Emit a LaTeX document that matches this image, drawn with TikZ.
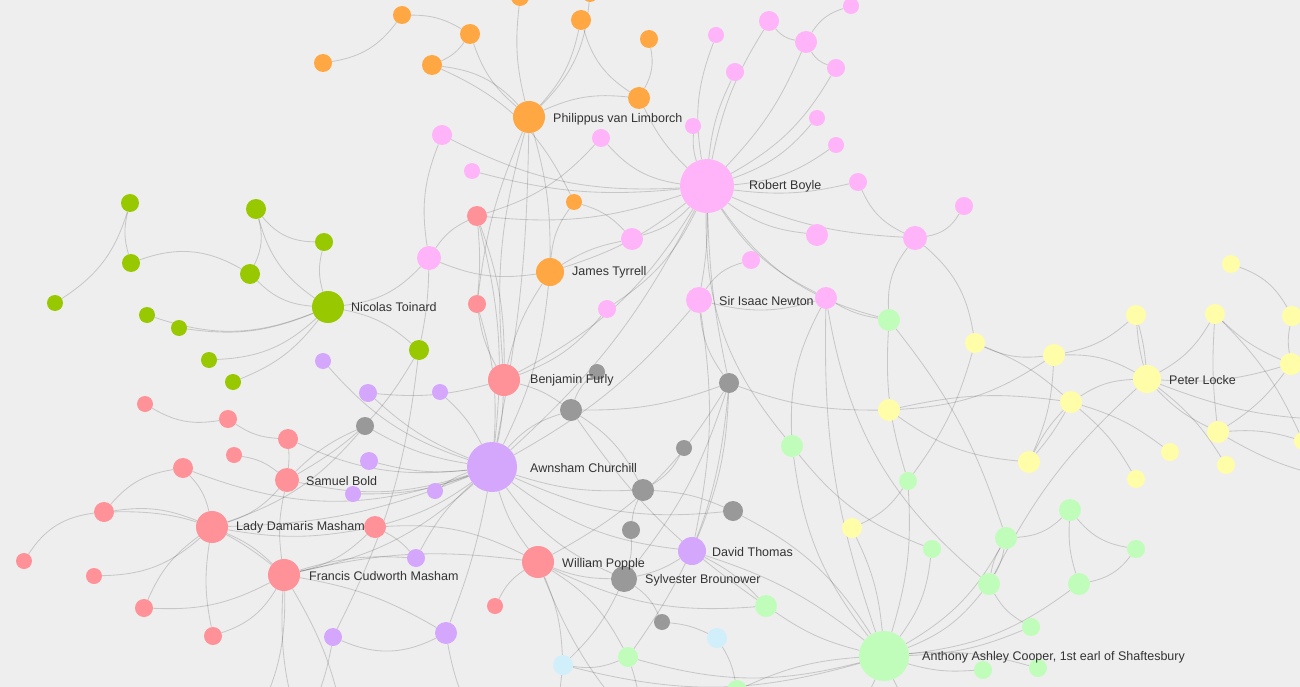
\documentclass[tikz,border=0pt]{standalone}
\usepackage{fontspec}
\setmainfont{Liberation Sans}
\usetikzlibrary{backgrounds}
\definecolor{bgc}{HTML}{EEEEEE}
\definecolor{cor}{HTML}{FFA843}
\definecolor{cpk}{HTML}{FFB3F8}
\definecolor{cdg}{HTML}{97C800}
\definecolor{csa}{HTML}{FF9198}
\definecolor{cpu}{HTML}{D4A7FC}
\definecolor{cgy}{HTML}{999999}
\definecolor{clg}{HTML}{C0FDBA}
\definecolor{cye}{HTML}{FFFDA8}
\definecolor{clb}{HTML}{D0EFFA}
\definecolor{ctx}{HTML}{333333}
\newcommand{\nd}[5]{\node[dot, minimum size=#4*2pt, fill=#5] (#1) at (#2,-#3) {};}
\newcommand{\ed}[3][15]{\draw[edge] (#2) to[bend left=#1] (#3);}
\tikzset{
  dot/.style={circle, draw=none, inner sep=0pt},
  edge/.style={draw=black, draw opacity=0.16, line width=0.85pt},
  lab/.style={anchor=west, inner sep=0pt, text=ctx, font=\fontsize{12.5}{14}\selectfont}
}
\begin{document}
\begin{tikzpicture}[x=1pt,y=1pt]
\useasboundingbox (0,0) rectangle (1300,-687);
\clip (0,0) rectangle (1300,-687);
% ---------- off-canvas ends
\coordinate (xb1) at (300,-730);
\coordinate (xb2) at (345,-730);
\coordinate (xb3) at (480,-730);
\coordinate (xb4) at (560,-730);
\coordinate (xb5) at (640,-730);
\coordinate (xb6) at (700,-730);
\coordinate (xb7) at (840,-730);
\coordinate (xb8) at (930,-730);
\coordinate (xb9) at (250,-730);
\coordinate (xr1) at (1345,-420);
\coordinate (xr2) at (1345,-480);
\coordinate (xr3) at (1345,-340);
% ---------- orange
\nd{oA}{402}{15}{9}{cor}
\nd{oB}{520}{-3}{9}{cor}
\nd{oC}{590}{-6}{8}{cor}
\nd{oD}{581}{20}{10}{cor}
\nd{oE}{470}{34}{10}{cor}
\nd{oF}{323}{63}{9}{cor}
\nd{oG}{432}{65}{10}{cor}
\nd{oH}{649}{39}{9}{cor}
\nd{oI}{639}{98}{11}{cor}
\nd{PL}{529}{117}{16}{cor}
\nd{oJ}{574}{202}{8}{cor}
\nd{JT}{550}{272}{14}{cor}
% ---------- pink
\nd{pA}{851}{6}{8}{cpk}
\nd{pB}{769}{21}{10}{cpk}
\nd{pC}{716}{35}{8}{cpk}
\nd{pD}{806}{42}{11}{cpk}
\nd{pE}{735}{72}{9}{cpk}
\nd{pF}{836}{68}{9}{cpk}
\nd{pG}{817}{118}{8}{cpk}
\nd{pH}{836}{145}{8}{cpk}
\nd{pI}{693}{126}{8}{cpk}
\nd{pJ}{601}{138}{9}{cpk}
\nd{pK}{442}{135}{10}{cpk}
\nd{pL}{472}{171}{8}{cpk}
\nd{RB}{707}{186}{27}{cpk}
\nd{pM}{858}{182}{9}{cpk}
\nd{pN}{964}{206}{9}{cpk}
\nd{pO}{632}{239}{11}{cpk}
\nd{pP}{817}{235}{11}{cpk}
\nd{pQ}{915}{238}{12}{cpk}
\nd{pR}{429}{258}{12}{cpk}
\nd{pS}{751}{260}{9}{cpk}
\nd{IN}{699}{300}{13}{cpk}
\nd{pT}{826}{298}{11}{cpk}
\nd{pU}{607}{309}{9}{cpk}
% ---------- dark green
\nd{gA}{130}{203}{9}{cdg}
\nd{gB}{256}{209}{10}{cdg}
\nd{gC}{324}{242}{9}{cdg}
\nd{gD}{131}{263}{9}{cdg}
\nd{gE}{250}{274}{10}{cdg}
\nd{gF}{55}{303}{8}{cdg}
\nd{gG}{147}{315}{8}{cdg}
\nd{gH}{179}{328}{8}{cdg}
\nd{NT}{328}{307}{16}{cdg}
\nd{gI}{209}{360}{8}{cdg}
\nd{gJ}{233}{382}{8}{cdg}
\nd{gK}{419}{350}{10}{cdg}
% ---------- salmon
\nd{sA}{477}{216}{10}{csa}
\nd{sB}{477}{304}{9}{csa}
\nd{BF}{504}{380}{16}{csa}
\nd{sC}{145}{404}{8}{csa}
\nd{sD}{228}{419}{9}{csa}
\nd{sE}{288}{439}{10}{csa}
\nd{sF}{234}{455}{8}{csa}
\nd{sG}{183}{468}{10}{csa}
\nd{SB}{287}{480}{12}{csa}
\nd{sH}{104}{512}{10}{csa}
\nd{LD}{212}{527}{16}{csa}
\nd{sI}{375}{527}{11}{csa}
\nd{sJ}{24}{561}{8}{csa}
\nd{sK}{94}{576}{8}{csa}
\nd{FC}{284}{575}{16}{csa}
\nd{WP}{538}{562}{16}{csa}
\nd{sL}{144}{608}{9}{csa}
\nd{sM}{213}{636}{9}{csa}
\nd{sN}{495}{606}{8}{csa}
% ---------- purple
\nd{uA}{323}{361}{8}{cpu}
\nd{uB}{368}{393}{9}{cpu}
\nd{uC}{440}{392}{8}{cpu}
\nd{uD}{369}{461}{9}{cpu}
\nd{uE}{353}{494}{8}{cpu}
\nd{uF}{435}{491}{8}{cpu}
\nd{AC}{492}{467}{25}{cpu}
\nd{uG}{416}{558}{9}{cpu}
\nd{DT}{692}{551}{14}{cpu}
\nd{uH}{333}{637}{9}{cpu}
\nd{uI}{446}{633}{11}{cpu}
% ---------- gray
\nd{kA}{597}{372}{8}{cgy}
\nd{kB}{729}{383}{10}{cgy}
\nd{kC}{571}{410}{11}{cgy}
\nd{kD}{365}{426}{9}{cgy}
\nd{kE}{684}{448}{8}{cgy}
\nd{kF}{643}{490}{11}{cgy}
\nd{kG}{733}{511}{10}{cgy}
\nd{kH}{631}{530}{9}{cgy}
\nd{SBr}{624}{579}{13}{cgy}
\nd{kI}{662}{622}{8}{cgy}
% ---------- light green
\nd{lA}{889}{320}{11}{clg}
\nd{lB}{792}{446}{11}{clg}
\nd{lC}{908}{481}{9}{clg}
\nd{lD}{932}{549}{9}{clg}
\nd{lE}{1006}{538}{11}{clg}
\nd{lF}{1070}{510}{11}{clg}
\nd{lG}{1136}{549}{9}{clg}
\nd{lH}{989}{584}{11}{clg}
\nd{lI}{1079}{584}{11}{clg}
\nd{lJ}{766}{606}{11}{clg}
\nd{lK}{1031}{627}{9}{clg}
\nd{AAC}{884}{656}{25}{clg}
\nd{lL}{628}{657}{10}{clg}
\nd{lM}{983}{670}{9}{clg}
\nd{lN}{1038}{668}{9}{clg}
\nd{lO}{737}{690}{10}{clg}
% ---------- yellow
\nd{yA}{1231}{264}{9}{cye}
\nd{yB}{1136}{315}{10}{cye}
\nd{yC}{1215}{314}{10}{cye}
\nd{yD}{1292}{316}{10}{cye}
\nd{yE}{975}{343}{10}{cye}
\nd{yF}{1054}{355}{11}{cye}
\nd{PLk}{1147}{379}{14}{cye}
\nd{yG}{1291}{364}{11}{cye}
\nd{yH}{1071}{402}{11}{cye}
\nd{yI}{889}{410}{11}{cye}
\nd{yJ}{1218}{432}{11}{cye}
\nd{yK}{1170}{452}{9}{cye}
\nd{yL}{1029}{462}{11}{cye}
\nd{yM}{1226}{465}{9}{cye}
\nd{yN}{1136}{479}{9}{cye}
\nd{yO}{852}{528}{10}{cye}
\nd{yP}{1303}{441}{9}{cye}
% ---------- light blue
\nd{bA}{563}{665}{10}{clb}
\nd{bB}{717}{638}{10}{clb}
% ---------- labels
\node[lab] (tPL) at (553,-119) {Philippus van Limborch};
\node[lab] (tRB) at (749,-186) {Robert Boyle};
\node[lab] (tJT) at (572,-272) {James Tyrrell};
\node[lab] (tNT) at (351,-307) {Nicolas Toinard};
\node[lab] (tIN) at (719,-301) {Sir Isaac Newton};
\node[lab] (tPLk) at (1169,-380) {Peter Locke};
\node[lab] (tBF) at (530,-380) {Benjamin Furly};
\node[lab] (tAC) at (530,-468) {Awnsham Churchill};
\node[lab] (tSB) at (306,-481) {Samuel Bold};
\node[lab] (tLD) at (236,-527) {Lady Damaris Masham};
\node[lab] (tFC) at (309,-576) {Francis Cudworth Masham};
\node[lab] (tWP) at (562,-564) {William Popple};
\node[lab] (tDT) at (712,-552) {David Thomas};
\node[lab] (tSBr) at (645,-580) {Sylvester Brounower};
\node[lab] (tAAC) at (922,-657) {Anthony Ashley Cooper, 1st earl of Shaftesbury};
% ---------- edges
\begin{pgfonlayer}{background}
\fill[bgc] (0,0) rectangle (1300,-687);
% orange
\ed[-22]{oF}{oA} \ed{oA}{oE} \ed{oE}{oG} \ed[-15]{oE}{PL} \ed[20]{oG}{PL}
\ed[-10]{oB}{PL} \ed{oD}{PL} \ed[-20]{oD}{oI} \ed[20]{oH}{oI} \ed[-15]{oI}{PL}
\ed[-10]{oI}{RB} \ed[8]{PL}{JT} \ed[-8]{PL}{sB} \ed[-15]{oJ}{JT} \ed{oJ}{pO}
\ed[20]{oG}{oJ} \ed[20]{oC}{PL} \ed[-10]{PL}{BF} \ed[5]{PL}{AC}
% pink
\ed{RB}{pC} \ed[10]{RB}{pB} \ed[-10]{RB}{pD} \ed[10]{RB}{pE} \ed[-15]{RB}{pF}
\ed[-15]{RB}{pG} \ed[-15]{RB}{pH} \ed[10]{RB}{pI} \ed[20]{RB}{pJ} \ed[-10]{RB}{pM}
\ed{RB}{pO} \ed[-15]{RB}{pP} \ed[-10]{RB}{pQ} \ed[-15]{RB}{pT} \ed[5]{RB}{IN}
\ed{RB}{pK} \ed{RB}{pU} \ed[12]{RB}{sA} \ed{RB}{BF} \ed[10]{RB}{AC}
\ed[-20]{RB}{lA} \ed[10]{RB}{JT} \ed[10]{RB}{pL} \ed[-5]{RB}{kB} \ed[-20]{RB}{lB}
\ed[-20]{pB}{pD} \ed[20]{pD}{pA} \ed[-20]{pD}{pF} \ed[25]{pN}{pQ} \ed[-20]{pM}{pQ}
\ed[-20]{pQ}{lA} \ed[20]{pQ}{yE} \ed[-15]{IN}{pT} \ed[20]{IN}{pS} \ed[-15]{pK}{pR}
\ed{pJ}{sA} \ed[20]{pR}{NT} \ed[5]{pR}{gK} \ed{pR}{sA} \ed[-15]{pR}{JT}
\ed{pU}{BF} \ed[-10]{pO}{JT} \ed[10]{IN}{DT} \ed[-15]{IN}{kB} \ed[10]{IN}{AC}
\ed[-15]{pT}{lB} \ed[-10]{pT}{lA} \ed[-20]{pT}{lH} \ed[-10]{pT}{AAC}
% dark green
\ed[-15]{gA}{gD} \ed[20]{gA}{gF} \ed[20]{gB}{gE} \ed[-25]{gB}{gC} \ed[-20]{gB}{NT}
\ed[-15]{gC}{NT} \ed[25]{gD}{gE} \ed[-20]{gE}{NT} \ed[-20]{gG}{NT} \ed[-15]{gH}{NT}
\ed[-20]{gI}{NT} \ed[-15]{gJ}{NT} \ed{NT}{gK} \ed{gK}{SB} \ed[10]{gK}{uH}
% salmon / purple
\ed[5]{sA}{sB} \ed[10]{sA}{BF} \ed[-10]{sB}{BF} \ed[10]{sA}{AC} \ed[10]{sB}{AC}
\ed[10]{BF}{JT} \ed[10]{BF}{kC} \ed[5]{BF}{AC} \ed[-10]{uB}{BF}
\ed[-20]{sC}{sD} \ed[-15]{sD}{sE} \ed[5]{sE}{SB} \ed[-15]{sE}{AC} \ed{sF}{SB}
\ed[-20]{sG}{sH} \ed{sG}{LD} \ed[-20]{sG}{AC} \ed[-25]{sH}{sJ} \ed{sH}{LD}
\ed[20]{sH}{FC} \ed[-20]{sK}{LD} \ed{sL}{LD} \ed[-15]{sL}{FC} \ed[10]{sM}{LD}
\ed[-20]{sM}{FC}
\ed[-15]{LD}{SB} \ed[10]{LD}{FC} \ed[-10]{LD}{sI} \ed[-10]{LD}{AC} \ed[-15]{LD}{kD}
\ed[10]{FC}{SB} \ed[-15]{FC}{sI} \ed[-15]{FC}{AC} \ed[10]{FC}{WP} \ed[10]{FC}{uI}
\ed[10]{SB}{kD} \ed[-15]{SB}{AC} \ed[-10]{sI}{AC} \ed[10]{sI}{uG} \ed{sI}{WP}
\ed[10]{WP}{AC} \ed[-15]{WP}{sN} \ed[-10]{WP}{SBr} \ed[10]{WP}{bA} \ed[-15]{WP}{lJ}
\ed{WP}{lL} \ed[-15]{WP}{kB}
\ed{AC}{uA} \ed[10]{AC}{uB} \ed[-10]{AC}{uC} \ed[10]{AC}{uD} \ed[10]{AC}{uE}
\ed[-10]{AC}{uF} \ed[-10]{AC}{uG} \ed[10]{AC}{kD} \ed{AC}{kC} \ed[-10]{AC}{kF}
\ed[-15]{AC}{DT} \ed[-15]{AC}{kG} \ed[-15]{AC}{SBr} \ed[5]{AC}{uI} \ed[-10]{AC}{JT}
\ed[-25]{uH}{uI} \ed[-10]{uG}{FC}
% gray
\ed[-15]{kA}{kC} \ed{kC}{kF} \ed[-10]{kC}{kB} \ed{kE}{kF} \ed[-10]{kF}{kH}
\ed[10]{kF}{kG} \ed[10]{kH}{SBr} \ed{SBr}{kI} \ed[10]{SBr}{bA} \ed[-10]{SBr}{DT}
\ed{kG}{AAC} \ed[-10]{kB}{yI} \ed[10]{kB}{SBr} \ed{kB}{lL} \ed[-10]{kC}{lJ}
% light green / blue
\ed[10]{DT}{lJ} \ed[10]{DT}{AAC} \ed[-10]{DT}{kB}
\ed[-15]{bA}{lL} \ed[-15]{bA}{AAC} \ed[10]{bB}{lO} \ed[-10]{bB}{kI}
\ed[-10]{lJ}{AAC} \ed[-15]{lL}{AAC} \ed[10]{lO}{AAC}
\ed[-15]{lB}{AAC} \ed[10]{lC}{AAC} \ed[10]{lC}{lA} \ed{lD}{AAC} \ed{lE}{AAC}
\ed[-20]{lE}{lF} \ed[10]{lE}{lH} \ed[-10]{lE}{lH} \ed[-20]{lF}{lG} \ed[-10]{lF}{lI}
\ed[20]{lG}{lI} \ed[-15]{lH}{lK} \ed{lH}{AAC} \ed{lI}{AAC} \ed[10]{lK}{AAC}
\ed[10]{lM}{AAC} \ed[-10]{lN}{AAC} \ed[10]{yO}{AAC} \ed[-15]{yO}{lC}
\ed[-15]{lB}{lD} \ed[-10]{lE}{lA} \ed[10]{yE}{lC}
% yellow
\ed[20]{yA}{yD} \ed[-10]{yD}{yG} \ed[10]{yG}{yC} \ed[10]{yG}{PLk} \ed[10]{yG}{yJ}
\ed{yC}{PLk} \ed[-5]{yC}{yJ} \ed[10]{yC}{yP} \ed[5]{yB}{PLk} \ed[-5]{yB}{PLk}
\ed[-15]{yF}{yB} \ed{yF}{PLk} \ed[10]{yF}{yL} \ed[15]{yF}{yI} \ed[10]{yE}{yH}
\ed[-15]{yE}{yF} \ed{yH}{PLk} \ed[5]{yH}{yL} \ed[-8]{yH}{yL} \ed[10]{yH}{yK}
\ed[10]{yH}{yN} \ed[-10]{yH}{yI} \ed[-15]{yI}{yL} \ed[-10]{PLk}{yJ} \ed[10]{PLk}{yM}
\ed[-10]{PLk}{lH} \ed[10]{yJ}{yP}
% edges leaving the frame
\ed[-10]{FC}{xb1} \ed[10]{FC}{xb2} \ed[15]{FC}{xb9} \ed[-10]{uI}{xb3} \ed[10]{uH}{xb1}
\ed[-5]{bA}{xb4} \ed[10]{lL}{xb5} \ed[-10]{lO}{xb6} \ed[10]{AAC}{xb7} \ed[-10]{AAC}{xb8}
\ed[-10]{WP}{xb5} \ed[15]{yG}{xr1} \ed[-10]{yJ}{xr2} \ed[10]{yD}{xr3} \ed[-10]{PLk}{xr1}
\end{pgfonlayer}
\end{tikzpicture}
\end{document}
